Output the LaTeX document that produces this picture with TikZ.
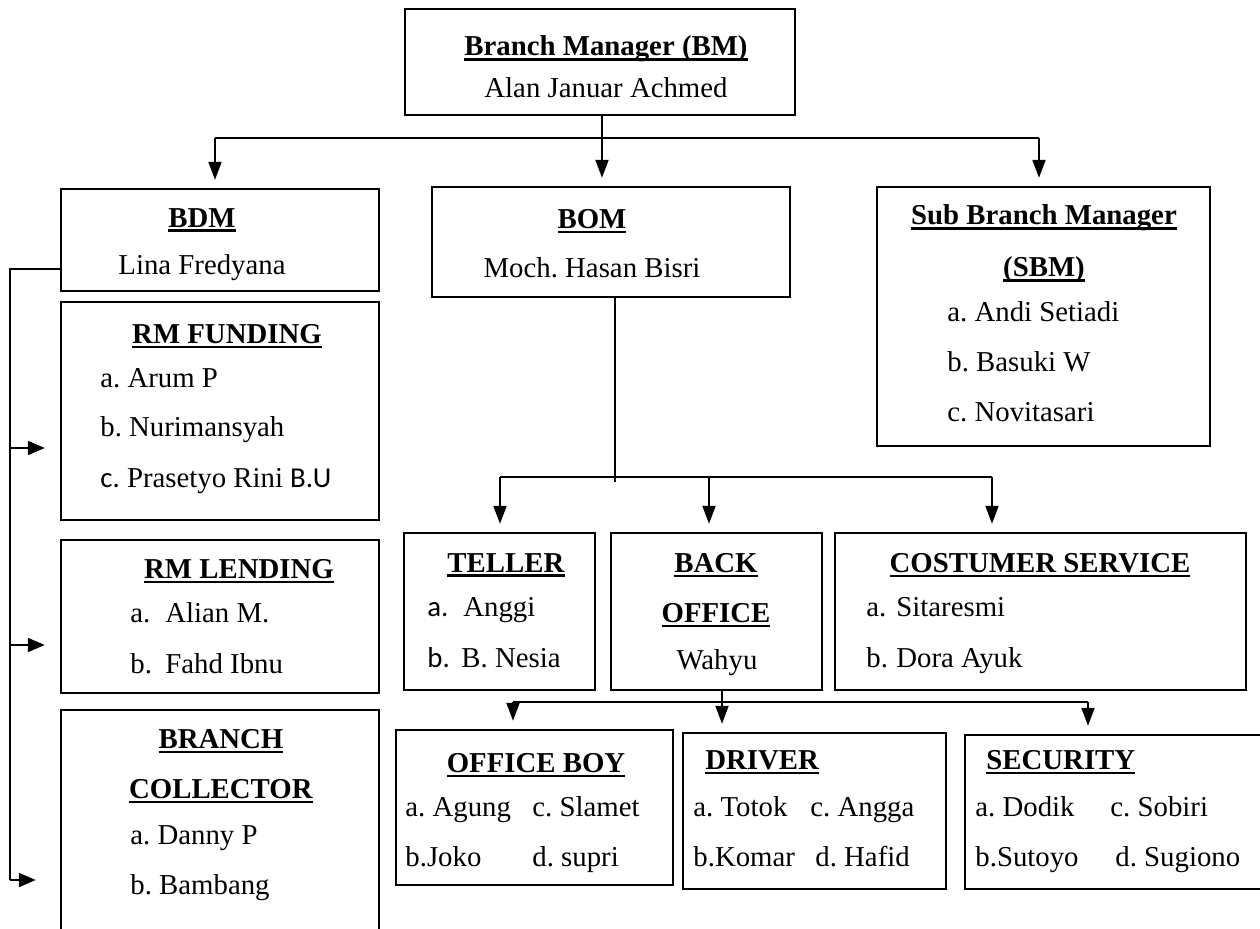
\documentclass[tikz,border=0pt]{standalone}
\usepackage{fontspec}
\setmainfont{Liberation Serif}
\newfontfamily\calib{Carlito}
\usetikzlibrary{arrows.meta,fit}
\newsavebox{\ttlbox}
\newcommand{\ttl}[1]{\sbox{\ttlbox}{\textbf{#1}}\rlap{\rule[-2.4pt]{\wd\ttlbox}{1.2pt}}\usebox{\ttlbox}}
\frenchspacing

\begin{document}
\begin{tikzpicture}[x=0.5pt,y=0.5pt,yscale=-1,
  box/.style={draw,line width=1.2pt,inner sep=0pt},
  lbl/.style={inner sep=0pt,font=\fontsize{14.4}{17}\selectfont},
  lft/.style={lbl,anchor=mid west},
  ln/.style={line width=1pt},
  arr/.style={line width=1pt,shorten >=4pt,-{Triangle[length=9pt,width=6.5pt]}},
  sidearr/.style={line width=1pt,-{Triangle[length=8.5pt,width=7pt]}}]
%set diagram left start at 0, and has height of 928
\useasboundingbox (0,0) rectangle (1260,928);

%Shape: Rectangle
\node[box,fit={(405,9) (795,115)}] (bm) {};
\node[box,fit={(61,189) (379,291)}] (bdm) {};
\node[box,fit={(432,187) (790,297)}] (bom) {};
\node[box,fit={(877,187) (1210,446)}] (sbm) {};
\node[box,fit={(61,302) (379,520)}] (fund) {};
\node[box,fit={(61,540) (379,693)}] (lend) {};
\node[box,fit={(61,710) (379,940)}] (coll) {};
\node[box,fit={(404,533) (595,690)}] (tel) {};
\node[box,fit={(611,533) (822,690)}] (bo) {};
\node[box,fit={(835,533) (1246,690)}] (cs) {};
\node[box,fit={(396,730) (673,885)}] (ob) {};
\node[box,fit={(683,733) (946,889)}] (drv) {};
\node[box,fit={(965,735) (1264,889)}] (sec) {};

%Straight Lines: BM
\coordinate (j1) at (602,138);
\coordinate (j1l) at (215,138);
\coordinate (j1r) at (1039,138);
\draw[ln] (bm.south -| j1) -- (j1);
\draw[ln] (j1l) -- (j1r);
\draw[arr] (j1l) -- (j1l |- bdm.north);
\draw[arr] (j1) -- (j1 |- bom.north);
\draw[arr] (j1r) -- (j1r |- sbm.north);

%Straight Lines: BOM
\coordinate (j2) at (615,477);
\coordinate (j2e) at (615,482);
\coordinate (j2l) at (500,477);
\coordinate (j2m) at (709,477);
\coordinate (j2r) at (992,477);
\draw[ln] (bom.south -| j2) -- (j2e);
\draw[ln] (j2l) -- (j2r);
\draw[arr] (j2l) -- (j2l |- tel.north);
\draw[arr] (j2m) -- (j2m |- bo.north);
\draw[arr] (j2r) -- (j2r |- cs.north);

%Straight Lines: BACK OFFICE
\coordinate (j3) at (722,702);
\coordinate (j3l) at (513,702);
\coordinate (j3r) at (1088,702);
\draw[ln] (j3l) -- (j3r);
\draw[arr] (bo.south -| j3) -- (j3 |- drv.north);
\draw[arr] (j3l) -- (j3l |- ob.north);
\draw[arr] (j3r) -- (j3r |- sec.north);

%Straight Lines: BDM
\coordinate (k0) at (10,269);
\coordinate (k1) at (10,448);
\coordinate (k2) at (10,645);
\coordinate (k3) at (10,880);
\draw[ln] (bdm.west |- k0) -- (k0) -- (k3);
\draw[sidearr,shorten >=7.5pt] (k1) -- (fund.west |- k1);
\draw[sidearr,shorten >=7.5pt] (k2) -- (lend.west |- k2);
\draw[sidearr,shorten >=12pt] (k3) -- (coll.west |- k3);

% Text Node
\node[lbl] (bmT) at (606,49) {\ttl{Branch Manager (BM)}};
\node[lbl] (bmN) at (606,88) {Alan Januar Achmed};
% Text Node
\node[lbl] (bdmT) at (202,220) {\ttl{BDM}};
\node[lbl] (bdmN) at (202,268) {Lina Fredyana};
% Text Node
\node[lbl] (bomT) at (592,221) {\ttl{BOM}};
\node[lbl] (bomN) at (592,268) {Moch. Hasan Bisri};
% Text Node
\node[lbl] (sbmT) at (1044,218) {\ttl{Sub Branch Manager}};
\node[lbl] (sbmT2) at (1044,270) {\ttl{(SBM)}};
\node[lft] (sbm1) at (947,317) {a. Andi Setiadi};
\node[lft] (sbm2) at (947,367) {b.\ Basuki W};
\node[lft] (sbm3) at (947,417) {c. Novitasari};
% Text Node
\node[lbl] (fundT) at (227,336) {\ttl{RM FUNDING}};
\node[lft] (fund1) at (100,383) {a. Arum P};
\node[lft] (fund2) at (100,432) {b. Nurimansyah};
\node[lft] (fund3) at (100,483) {{\calib c.} Prasetyo Rini {\calib B.U}};
% Text Node
\node[lbl] (lendT) at (239,571) {\ttl{RM LENDING}};
\node[lft] (lend1) at (130,618) {\makebox[17.5pt][l]{a.}Alian M.};
\node[lft] (lend2) at (130,669) {\makebox[17.5pt][l]{b.}Fahd Ibnu};
% Text Node
\node[lbl] (collT) at (221,741) {\ttl{BRANCH}};
\node[lbl] (collT2) at (221,791) {\ttl{COLLECTOR}};
\node[lft] (coll1) at (130,840) {a. Danny P};
\node[lft] (coll2) at (130,890) {b.\ Bambang};
% Text Node
\node[lbl] (telT) at (506,565) {\ttl{TELLER}};
\node[lft] (tel1) at (427,612) {\makebox[18pt][l]{\calib a.}Anggi};
\node[lft] (tel2) at (427,663) {\makebox[17pt][l]{\calib b.}B. Nesia};
% Text Node
\node[lbl] (boT) at (716,565) {\ttl{BACK}};
\node[lbl] (boT2) at (716,615) {\ttl{OFFICE}};
\node[lbl] (boN) at (717,663) {Wahyu};
% Text Node
\node[lbl] (csT) at (1040,565) {\ttl{COSTUMER SERVICE}};
\node[lft] (cs1) at (866,612) {\makebox[15pt][l]{a.}Sitaresmi};
\node[lft] (cs2) at (866,663) {\makebox[15pt][l]{b.}Dora Ayuk};
% Text Node
\node[lbl] (obT) at (536,765) {\ttl{OFFICE BOY}};
\node[lft] (ob1) at (405,812) {a. Agung};
\node[lft] (ob2) at (405,862) {b.Joko};
\node[lft] (ob3) at (532,812) {c. Slamet};
\node[lft] (ob4) at (532,862) {d. supri};
% Text Node
\node[lft] (drvT) at (705,765) {\ttl{DRIVER}};
\node[lft] (drv1) at (693,812) {a. Totok};
\node[lft] (drv2) at (693,862) {b.Komar};
\node[lft] (drv3) at (810,812) {c. Angga};
\node[lft] (drv4) at (815,862) {d. Hafid};
% Text Node
\node[lft] (secT) at (986,765) {\ttl{SECURITY}};
\node[lft] (sec1) at (975,812) {a. Dodik};
\node[lft] (sec2) at (975,862) {b.Sutoyo};
\node[lft] (sec3) at (1110,812) {c. Sobiri};
\node[lft] (sec4) at (1115,862) {d. Sugiono};

\end{tikzpicture}
\end{document}
